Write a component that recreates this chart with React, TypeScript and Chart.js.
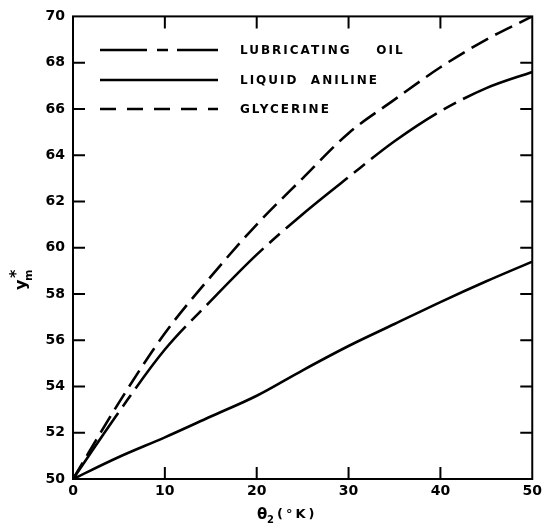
import React, { useEffect, useRef } from "react";
import { Chart, registerables } from "chart.js";

Chart.register(...registerables);

// θ2 (°K)
const THETA = [0, 5, 10, 15, 20, 25, 30, 35, 40, 45, 50];
// y*m values
const LUBRICATING_OIL = [50, 52.9, 55.6, 57.7, 59.7, 61.45, 63.05, 64.6, 65.9, 66.9, 67.6];
const LIQUID_ANILINE = [50, 50.95, 51.8, 52.7, 53.6, 54.7, 55.75, 56.7, 57.65, 58.55, 59.4];
const GLYCERINE = [50, 53.3, 56.3, 58.75, 61.0, 63.0, 64.95, 66.4, 67.8, 69.0, 70.0];

const SERIES_NAMES = ["LUBRICATING    OIL", "LIQUID  ANILINE", "GLYCERINE"];
const X_MIN = 0;
const X_MAX = 50;
const X_STEP = 10;
const Y_MIN = 50;
const Y_MAX = 70;
const Y_STEP = 2;

const FONT = '"DejaVu Sans", "Liberation Sans", sans-serif';

const toPoints = (ys: number[]) => THETA.map((x, i) => ({ x, y: ys[i] }));

const framePlugin = {
  id: "framePlugin",
  afterDraw(chart: any) {
    const { ctx, chartArea, scales } = chart;
    const { left, right, top, bottom } = chartArea;
    const xs = scales.x;
    const ys = scales.y;
    ctx.save();
    ctx.strokeStyle = "#000";
    ctx.fillStyle = "#000";
    // frame
    ctx.lineWidth = 2;
    ctx.setLineDash([]);
    ctx.strokeRect(left, top, right - left, bottom - top);
    // inward ticks
    const TL = 12;
    ctx.lineWidth = 2;
    for (let v = X_MIN + X_STEP; v < X_MAX; v += X_STEP) {
      const px = xs.getPixelForValue(v);
      ctx.beginPath();
      ctx.moveTo(px, bottom);
      ctx.lineTo(px, bottom - TL);
      ctx.moveTo(px, top);
      ctx.lineTo(px, top + TL);
      ctx.stroke();
    }
    for (let v = Y_MIN + Y_STEP; v < Y_MAX; v += Y_STEP) {
      const py = ys.getPixelForValue(v);
      ctx.beginPath();
      ctx.moveTo(left, py);
      ctx.lineTo(left + TL, py);
      ctx.moveTo(right, py);
      ctx.lineTo(right - TL, py);
      ctx.stroke();
    }

    // legend
    const legendDash = [
      [47, 10, 11, 9],
      [],
      [16, 11],
    ];
    const legendY = [50, 80, 109];
    ctx.lineWidth = 2.6;
    for (let i = 0; i < 3; i++) {
      ctx.setLineDash(legendDash[i]);
      ctx.beginPath();
      ctx.moveTo(100, legendY[i]);
      ctx.lineTo(218, legendY[i]);
      ctx.stroke();
    }
    ctx.setLineDash([]);
    ctx.font = `bold 12px ${FONT}`;
    (ctx as any).letterSpacing = "2px";
    ctx.textAlign = "left";
    ctx.textBaseline = "middle";
    for (let i = 0; i < 3; i++) {
      ctx.fillText(SERIES_NAMES[i], 240, legendY[i] + 1);
    }
    (ctx as any).letterSpacing = "0px";

    // x title: θ2 (°K)
    ctx.textBaseline = "alphabetic";
    ctx.font = `bold 15px ${FONT}`;
    ctx.fillText("θ", 257, 519);
    ctx.font = `bold 10px ${FONT}`;
    ctx.fillText("2", 267, 523);
    ctx.font = `bold 13px ${FONT}`;
    (ctx as any).letterSpacing = "3px";
    ctx.fillText("(°K)", 277, 518);
    (ctx as any).letterSpacing = "0px";

    // y title: y*m rotated
    ctx.translate(26, 290);
    ctx.rotate(-Math.PI / 2);
    ctx.font = `bold 16px ${FONT}`;
    ctx.fillText("y", 0, 0);
    ctx.font = `bold 11px ${FONT}`;
    ctx.fillText("m", 9, 6);
    ctx.font = `bold 16px ${FONT}`;
    ctx.fillText("*", 12, -5);
    ctx.restore();
  },
};

export default function App() {
  const canvasRef = useRef<HTMLCanvasElement | null>(null);

  useEffect(() => {
    const canvas = canvasRef.current;
    if (!canvas) return;
    const chart = new Chart(canvas, {
      type: "line",
      data: {
        datasets: [
          {
            label: SERIES_NAMES[0],
            data: toPoints(LUBRICATING_OIL),
            borderColor: "#000",
            borderWidth: 2.6,
            borderDash: [80, 8, 14, 8],
            pointRadius: 0,
            cubicInterpolationMode: "monotone",
            fill: false,
          },
          {
            label: SERIES_NAMES[1],
            data: toPoints(LIQUID_ANILINE),
            borderColor: "#000",
            borderWidth: 2.6,
            pointRadius: 0,
            cubicInterpolationMode: "monotone",
            fill: false,
          },
          {
            label: SERIES_NAMES[2],
            data: toPoints(GLYCERINE),
            borderColor: "#000",
            borderWidth: 2.6,
            borderDash: [19, 8],
            pointRadius: 0,
            cubicInterpolationMode: "monotone",
            fill: false,
          },
        ],
      },
      options: {
        responsive: false,
        animation: false,
        layout: { padding: { left: 0, right: 11, top: 16, bottom: 0 } },
        plugins: {
          legend: { display: false },
          tooltip: { enabled: false },
        },
        scales: {
          x: {
            type: "linear",
            min: X_MIN,
            max: X_MAX,
            grid: { display: false, drawTicks: false },
            border: { display: false },
            ticks: {
              stepSize: X_STEP,
              color: "#000",
              padding: 4,
              maxRotation: 0,
              font: { family: FONT, size: 14, weight: "bold" },
            },
            afterFit: (s: any) => {
              s.height = 46;
            },
          },
          y: {
            type: "linear",
            min: Y_MIN,
            max: Y_MAX,
            grid: { display: false, drawTicks: false },
            border: { display: false },
            ticks: {
              stepSize: Y_STEP,
              color: "#000",
              padding: 8,
              font: { family: FONT, size: 14, weight: "bold" },
            },
            afterFit: (s: any) => {
              s.width = 73;
            },
          },
        },
      },
      plugins: [framePlugin],
    });
    return () => chart.destroy();
  }, []);

  return (
    <div
      style={{
        position: "fixed",
        left: 0,
        top: 0,
        width: 546,
        height: 525,
        background: "#fff",
      }}
    >
      <canvas ref={canvasRef} width={546} height={525} />
    </div>
  );
}
